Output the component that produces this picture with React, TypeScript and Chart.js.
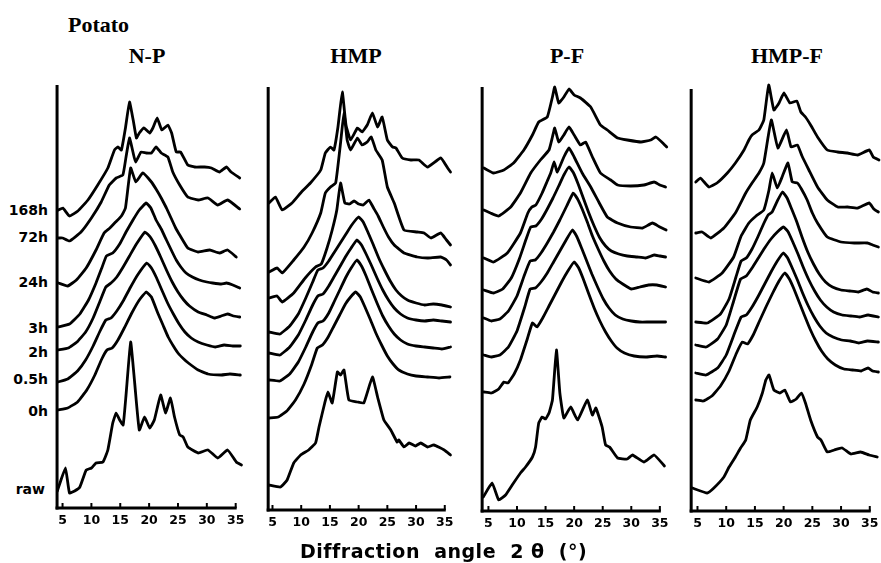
import React, { useEffect, useRef } from "react";
import { Chart, registerables } from "chart.js";
Chart.register(...registerables);

type Pt = [number, number];

const FIGURE_TITLE = "Potato";
const PANEL_TITLES = ["N-P", "HMP", "P-F", "HMP-F"];
const TIME_LABELS = ["168h", "72h", "24h", "3h", "2h", "0.5h", "0h", "raw"];
const X_TICKS = [5, 10, 15, 20, 25, 30, 35];
const X_AXIS_TITLE = "Diffraction  angle  2 θ  (°)";

// ---------- N-P ----------
const NP_168h: Pt[] = [[4.3,298],[5.05,300],[6.2,292],[7.65,297],[9.4,308],[11.1,323],[12.85,340],[14.0,358],[14.6,361],[15.2,358],[15.9,380],[16.6,406],[17.3,386],[17.8,370],[18.3,375],[19.1,380],[20.1,375],[20.65,380],[21.4,390],[22.2,378],[23.25,383],[23.9,375],[24.7,356],[25.45,356],[26.7,343],[27.9,341],[29.6,341],[30.8,340],[32.2,336],[33.4,341],[34.2,336],[35.7,330]];
const NP_72h: Pt[] = [[4.3,270],[5,270],[6.2,267],[8.2,276],[10,290],[11.7,306],[13.1,323],[14.3,330],[15.45,333],[16,351],[16.6,370],[17.2,356],[17.65,346],[18.6,356],[19.5,355],[20.4,355],[21.2,361],[22.1,355],[23.25,351],[24.1,336],[25.3,323],[26.7,311],[28.5,308],[30.2,310],[31.9,303],[33.6,308],[35.7,299]];
const NP_24h: Pt[] = [[4.3,225],[5.9,222],[7.4,228],[9.1,240],[10.8,258],[12.2,275],[13.2,280],[14.2,286],[15.2,292],[15.9,300],[16.8,340],[17.7,326],[18.9,335],[20.4,326],[21.3,318],[22.1,310],[23,300],[23.8,290],[24.6,280],[25.3,273],[26.7,260],[28.5,256],[30.5,258],[32.2,255],[33.6,258],[35.1,251]];
const NP_3h: Pt[] = [[4.2,181],[6.2,184],[8,194],[9.5,208],[10.8,225],[11.8,240],[12.6,252],[13.7,255],[14.9,264],[16,276],[17.2,288],[18.3,298],[19.5,305],[20.3,300],[21.2,288],[22.1,279],[23,268],[24,256],[24.7,248],[25.5,241],[26.4,235],[27.5,231],[28.7,228],[30,226],[31,225],[32.5,224],[33.4,225],[34.5,223],[35.7,220]];
const NP_2h: Pt[] = [[4.2,158],[6,160],[7.5,166],[9,176],[10.3,190],[11.5,207],[12.5,221],[13.4,225],[14.4,231],[15.5,241],[16.6,252],[17.8,264],[19.3,276],[20.2,271],[21.1,262],[22,251],[23,238],[24,226],[25,216],[26,208],[27,202],[28.5,196],[30,193],[31.3,190],[32.5,192],[33.6,194],[34.6,192],[35.7,191]];
const NP_05h: Pt[] = [[4.2,126],[5.9,129],[7.6,137],[9,148],[10.3,162],[11.5,177],[12.5,188],[13.4,190],[14.4,197],[15.5,207],[16.7,220],[18,233],[19.6,245],[20.4,240],[21.3,230],[22.2,218],[23.2,205],[24.2,194],[25.2,184],[26.2,176],[27.3,170],[28.5,166],[30,163],[31.5,161],[33,163],[34.5,162],[35.8,162]];
const NP_0h: Pt[] = [[4.2,98],[5.9,100],[7.6,106],[9.2,118],[10.6,133],[11.8,149],[12.7,158],[13.6,160],[14.6,168],[15.7,180],[17,195],[18.3,208],[19.5,216],[20.4,211],[21.5,195],[22.4,183],[23.3,171],[24.2,162],[25,155],[26,149],[26.8,145],[28.5,138],[30.2,134],[32.5,133],[34,134],[35.8,133]];
const NP_raw: Pt[] = [[4.1,17],[5.5,40],[6.2,15],[7.1,17],[8,21],[9.1,38],[10,40],[10.8,45],[12,46],[12.85,58],[13.7,85],[14.3,95],[14.9,88],[15.5,83],[16.0,113],[16.8,166],[17.5,125],[18.3,78],[19.2,91],[20.1,80],[20.9,88],[22.0,113],[22.85,95],[23.7,110],[24.4,91],[25.3,73],[25.9,71],[26.7,61],[28.5,55],[30.2,58],[31.9,50],[33.6,58],[35.1,46],[36,43]];

// ---------- HMP ----------
const HMP_168h: Pt[] = [[4.4,307],[5.5,313],[6.7,300],[8.4,307],[9.9,317],[11.6,327],[13.4,340],[14.2,357],[15.1,363],[15.7,360],[16.4,383],[17.15,418],[17.8,385],[18.6,370],[19.8,382],[20.6,378],[21.5,385],[22.4,397],[23.3,383],[24.1,393],[25,370],[25.9,363],[26.5,362],[27.6,352],[29.1,350],[30.5,350],[32,343],[34.3,352],[35.5,342],[36,338]];
const HMP_72h: Pt[] = [[4.4,238],[5.8,242],[6.7,237],[8.7,250],[10.5,263],[11.9,277],[13.4,297],[14.2,317],[15.1,323],[16,327],[16.85,367],[17.45,397],[18,370],[18.6,360],[19.8,372],[20.6,365],[21.5,368],[22.2,373],[23,360],[24.1,350],[25,323],[26.2,307],[27.9,280],[30.2,278],[31.4,277],[32.6,272],[34.3,277],[35.3,270],[36,265]];
const HMP_24h: Pt[] = [[4.4,212],[5.8,214],[6.7,208],[8.7,217],[10.7,232],[12.5,243],[13.5,246],[14.5,262],[15.4,280],[16.2,300],[16.85,327],[17.6,307],[18.4,306],[19.2,309],[20,306],[20.8,305],[21.8,310],[22.6,302],[23.4,294],[24.3,283],[25.2,273],[26.2,265],[27.9,257],[30.2,253],[32,252],[34.3,253],[35.3,250],[36,245]];
const HMP_3h: Pt[] = [[4.4,178],[6.3,176],[8,184],[9.5,196],[10.8,212],[12,228],[12.9,240],[13.8,242],[14.8,249],[15.8,258],[16.8,267],[17.8,276],[18.8,285],[20,293],[20.8,288],[21.6,278],[22.5,266],[23.5,252],[24.5,240],[25.5,229],[26.5,220],[27.5,214],[28.5,210],[30,207],[31.5,205],[33,206],[34.5,205],[36,203]];
const HMP_2h: Pt[] = [[4.4,157],[6.3,155],[8,163],[9.5,175],[10.8,190],[12,205],[12.9,214],[13.8,216],[14.8,224],[15.8,234],[16.8,244],[17.8,254],[18.7,262],[19.7,270],[20.5,265],[21.3,256],[22.2,245],[23.2,232],[24.2,220],[25.2,210],[26.2,202],[27.3,196],[28.5,192],[30,190],[31.5,189],[33,190],[34.5,189],[36,188]];
const HMP_05h: Pt[] = [[4.4,130],[6.3,129],[8,136],[9.5,148],[10.8,163],[12,178],[12.9,187],[13.8,189],[14.8,197],[15.8,209],[16.8,221],[17.8,233],[18.7,242],[19.7,250],[20.5,244],[21.3,234],[22.2,221],[23.2,207],[24.2,194],[25.2,184],[26.2,176],[27.3,170],[28.5,166],[30,164],[31.5,163],[33,162],[34.5,161],[36,163]];
const HMP_0h: Pt[] = [[4.4,92],[6,93],[7.5,99],[9,110],[10.5,126],[11.8,145],[12.8,162],[13.7,165],[14.7,173],[15.7,184],[16.7,195],[17.7,206],[18.6,213],[19.5,218],[20.3,213],[21.1,203],[22,191],[23,177],[24,165],[25,154],[26,146],[27,140],[28.5,136],[30,134],[32,133],[34,132],[35.9,133]];
const HMP_raw: Pt[] = [[4.35,25],[6.4,23],[7.55,30],[8.7,47],[9.9,55],[11.3,60],[12.5,67],[13.1,83],[14.1,107],[14.65,118],[15.4,107],[16.3,138],[16.85,135],[17.45,140],[18.3,110],[19.8,108],[20.9,107],[22.4,133],[23.3,113],[24.4,90],[25.6,80],[26.7,68],[27,70],[27.9,63],[28.8,67],[29.9,64],[30.8,67],[32,63],[33.1,65],[34.9,60],[36,55]];

// ---------- P-F ----------
const PF_168h: Pt[] = [[4.2,343],[5.9,338],[7.7,341],[9.4,348],[11.2,361],[12.7,376],[13.8,389],[15.3,394],[16.2,414],[16.6,424],[17.3,408],[18.2,414],[19.1,422],[20,416],[21.1,413],[22.9,404],[24.6,386],[25.8,381],[27.6,373],[29.3,371],[31.7,369],[33.4,371],[34.3,374],[35.5,368],[36.2,364]];
const PF_72h: Pt[] = [[4.2,301],[5.35,298],[6.8,295],[8.9,304],[10.6,318],[12.4,338],[14.1,351],[15.6,361],[16.2,374],[16.6,383],[17.3,369],[18.2,376],[19.1,384],[20,376],[21.1,366],[22,369],[23.2,354],[24.6,338],[26.4,331],[27.6,326],[29.9,325],[32.2,326],[34,329],[35,326],[36,324]];
const PF_24h: Pt[] = [[4.2,253],[5.9,249],[8.3,258],[10.6,278],[11.9,298],[12.6,304],[13.3,306],[14.4,318],[15.3,330],[15.9,338],[16.5,349],[17.05,339],[18.2,354],[19.1,363],[20,354],[21.4,338],[22.9,324],[24.4,308],[25.8,294],[27.6,288],[29.9,284],[32,283],[33.7,288],[35,284],[36.1,281]];
const PF_3h: Pt[] = [[4.2,221],[5.9,218],[7.5,222],[9,233],[10.4,252],[11.6,272],[12.4,284],[13.3,285],[14.3,292],[15.3,302],[16.3,313],[17.3,325],[18.2,336],[19.1,344],[19.9,338],[20.7,327],[21.6,313],[22.5,299],[23.5,285],[24.5,273],[25.5,265],[26.5,260],[27.8,257],[29.3,255],[31,254],[32.5,253],[34,256],[35,255],[36,254]];
const PF_2h: Pt[] = [[4.2,193],[5.5,190],[7,192],[8.5,200],[10,215],[11.3,236],[12.3,250],[13.2,251],[14.2,258],[15.3,268],[16.4,279],[17.5,291],[18.7,305],[19.85,318],[20.6,312],[21.4,302],[22.3,289],[23.2,275],[24.2,262],[25.2,250],[26.2,240],[27.3,232],[28.5,227],[30,222],[31.5,224],[33,226],[34.5,226],[36,224]];
const PF_05h: Pt[] = [[4.2,156],[5.5,154],[7,156],[8.5,164],[10,180],[11.3,203],[12.3,222],[13.2,223],[14.2,229],[15.3,238],[16.4,249],[17.5,260],[18.6,271],[19.7,281],[20.5,274],[21.3,263],[22.2,250],[23.1,237],[24.1,224],[25.1,212],[26.1,203],[27.2,196],[28.5,192],[30,190],[31.5,189],[33,189],[34.5,189],[36,189]];
const PF_0h: Pt[] = [[4.2,119],[5.5,118],[6.8,122],[7.7,129],[8.4,128],[9.5,137],[10.6,151],[11.8,172],[12.7,188],[13.5,184],[14.5,193],[15.6,205],[16.7,217],[17.8,229],[18.9,240],[20,249],[20.8,243],[21.6,232],[22.5,218],[23.5,203],[24.5,190],[25.5,179],[26.5,170],[27.5,163],[28.8,158],[30.5,155],[32.5,154],[34.5,155],[36,154]];
const PF_raw: Pt[] = [[4.1,14],[5.65,28],[6.8,11],[8,16],[9.4,28],[10.6,38],[11.5,44],[12.7,54],[13.25,64],[13.8,88],[14.4,94],[15,92],[15.6,98],[16.2,111],[16.9,161],[17.5,118],[18.2,93],[19.4,104],[20.6,91],[22.3,111],[23.2,96],[23.8,103],[24.9,84],[25.5,66],[26.2,64],[27.6,53],[29.3,52],[30.2,56],[32.2,49],[34,56],[35.8,45]];

// ---------- HMP-F ----------
const HMPF_168h: Pt[] = [[4.7,329],[5.5,333],[7,324],[8.4,328],[10.2,338],[11.6,348],[13.1,361],[13.95,371],[14.5,376],[15.7,381],[16.55,391],[17.4,426],[18.3,401],[19.2,408],[20.05,418],[21.1,408],[22.3,410],[23,399],[23.8,394],[24.7,386],[25.9,374],[27.6,361],[29.4,359],[31.1,358],[32.9,356],[34.9,361],[35.6,354],[36.6,351]];
const HMPF_72h: Pt[] = [[4.7,278],[5.8,279],[7.3,273],[9.6,283],[11.6,298],[13.4,318],[14.5,328],[15.7,338],[16.55,348],[17.85,391],[19,363],[20.5,381],[21.3,364],[22.4,366],[23.2,355],[24.4,341],[25.9,324],[27.6,311],[29.4,304],[31.1,304],[32.9,303],[34.9,308],[35.7,302],[36.5,299]];
const HMPF_24h: Pt[] = [[4.7,233],[7,229],[9.3,238],[11.3,254],[12.6,275],[13.95,288],[15.2,295],[16.55,301],[17.45,321],[18,338],[18.9,323],[19.8,335],[20.75,348],[21.5,329],[22.4,328],[23.1,322],[24.1,311],[25,298],[25.9,288],[27.6,274],[30,269],[32.3,268],[34.6,268],[35.5,266],[36.5,264]];
const HMPF_3h: Pt[] = [[4.7,189],[6.7,188],[9,197],[10.5,212],[11.7,234],[12.6,250],[13.5,253],[14.5,262],[15.5,274],[16.5,287],[17.3,296],[18,299],[18.9,310],[19.8,319],[20.6,313],[21.4,302],[22.3,289],[23.2,274],[24.2,259],[25.2,247],[26.2,237],[27.3,229],[28.5,224],[30,221],[31.5,220],[33,219],[34.5,222],[35.5,219],[36.5,218]];
const HMPF_2h: Pt[] = [[4.7,166],[6.5,164],[8.5,172],[10,186],[11.3,210],[12.5,232],[13.5,235],[14.5,243],[15.6,253],[16.7,263],[17.8,272],[18.9,279],[20,284],[20.8,279],[21.6,269],[22.5,257],[23.4,244],[24.4,231],[25.4,220],[26.4,211],[27.5,204],[28.7,199],[30.2,196],[31.7,195],[33.2,194],[34.7,196],[36.5,194]];
const HMPF_05h: Pt[] = [[4.7,138],[6.5,136],[8.5,143],[10,156],[11.4,177],[12.6,194],[13.5,196],[14.5,204],[15.6,215],[16.7,227],[17.8,239],[18.9,250],[19.95,258],[20.7,253],[21.5,243],[22.4,231],[23.3,218],[24.3,205],[25.3,194],[26.3,185],[27.4,178],[28.6,174],[30.1,171],[31.6,170],[33.1,168],[34.6,170],[36.5,169]];
const HMPF_0h: Pt[] = [[4.7,111],[6,110],[7.5,115],[9,125],[10.5,140],[11.8,158],[12.8,169],[13.7,167],[14.7,176],[15.8,190],[17,205],[18.1,218],[19.2,230],[20.2,238],[21,232],[21.8,222],[22.7,209],[23.6,196],[24.6,182],[25.6,170],[26.6,160],[27.7,152],[29,146],[30.5,142],[32,141],[33.5,140],[34.7,143],[35.5,140],[36.5,139]];
const HMPF_raw: Pt[] = [[4.1,23],[6.7,18],[7.85,23],[9.6,34],[10.5,44],[11.6,54],[12.5,63],[13.4,71],[14.2,91],[15.4,104],[16.3,118],[16.9,131],[17.45,136],[18.3,121],[19.35,118],[20.2,121],[21.2,109],[22.2,112],[23.1,118],[23.8,108],[24.7,91],[25.9,74],[26.5,71],[27.6,59],[28.8,61],[30.2,63],[31.7,57],[33.4,59],[34.9,56],[36.3,54]];

const PANEL_SERIES: Pt[][][] = [
  [NP_168h, NP_72h, NP_24h, NP_3h, NP_2h, NP_05h, NP_0h, NP_raw],
  [HMP_168h, HMP_72h, HMP_24h, HMP_3h, HMP_2h, HMP_05h, HMP_0h, HMP_raw],
  [PF_168h, PF_72h, PF_24h, PF_3h, PF_2h, PF_05h, PF_0h, PF_raw],
  [HMPF_168h, HMPF_72h, HMPF_24h, HMPF_3h, HMPF_2h, HMPF_05h, HMPF_0h, HMPF_raw],
];

// layout (pixels)
const TOP = 70;
const AXIS_H = 30;
const LAYOUT = [
  { left: 51, width: 202, bottom: 508, axisTop: 85, axisX: 4.05, title: 147 },
  { left: 261, width: 201, bottom: 510, axisTop: 87, axisX: 4.25, title: 356 },
  { left: 477, width: 200, bottom: 511, axisTop: 87, axisX: 3.9, title: 567 },
  { left: 686, width: 201, bottom: 511, axisTop: 89, axisX: 3.9, title: 787 },
];
const LABEL_Y = [210, 237, 282, 328, 352, 379, 411, 490];

function Panel({ idx }: { idx: number }) {
  const ref = useRef<HTMLCanvasElement>(null);
  const L = LAYOUT[idx];
  const plotH = L.bottom - TOP;
  const H = plotH + AXIS_H;
  useEffect(() => {
    if (!ref.current) return;
    const axisPlugin = {
      id: "xrdAxes" + idx,
      afterDatasetsDraw(chart: any) {
        const { ctx, scales } = chart;
        const x = scales.x, y = scales.y;
        const x0 = x.getPixelForValue(L.axisX);
        const yb = y.getPixelForValue(0);
        const yt = y.getPixelForValue(L.bottom - L.axisTop);
        const xEnd = x.getPixelForValue(35);
        ctx.save();
        ctx.strokeStyle = "#000";
        ctx.lineWidth = 3;
        ctx.beginPath();
        ctx.moveTo(x0, yt);
        ctx.lineTo(x0, yb + 1.5);
        ctx.stroke();
        ctx.beginPath();
        ctx.moveTo(x0 - 1.5, yb);
        ctx.lineTo(xEnd + 1, yb);
        ctx.stroke();
        ctx.lineWidth = 2;
        X_TICKS.forEach((t) => {
          const px = x.getPixelForValue(t);
          ctx.beginPath();
          ctx.moveTo(px, yb);
          ctx.lineTo(px, yb - 5);
          ctx.stroke();
        });
        ctx.restore();
      },
    };
    const chart = new Chart(ref.current, {
      type: "line",
      data: {
        datasets: PANEL_SERIES[idx].map((s, i) => ({
          label: TIME_LABELS[i],
          data: s.map(([x, y]) => ({ x, y })),
          borderColor: "#000",
          borderWidth: 2.8,
          borderJoinStyle: "round" as const,
          borderCapStyle: "round" as const,
          pointRadius: 0,
          fill: false,
          tension: 0.12,
        })),
      },
      options: {
        animation: false,
        responsive: false,
        events: [],
        layout: { padding: 0 },
        plugins: { legend: { display: false }, tooltip: { enabled: false } },
        scales: {
          x: {
            type: "linear",
            min: 3,
            max: 38,
            afterBuildTicks: (s: any) => {
              s.ticks = X_TICKS.map((v) => ({ value: v }));
            },
            afterFit: (s: any) => {
              s.height = AXIS_H;
            },
            grid: { display: false, drawTicks: false },
            border: { display: false },
            ticks: {
              color: "#000",
              font: { family: "DejaVu Sans", weight: "bold", size: 12.5 },
              padding: 5,
              maxRotation: 0,
              autoSkip: false,
              callback: (v: any) => String(v),
            },
          },
          y: { display: false, min: 0, max: plotH },
        },
      },
      plugins: [axisPlugin],
    } as any);
    return () => chart.destroy();
  }, [idx]);
  return (
    <canvas
      ref={ref}
      width={L.width}
      height={H}
      style={{ position: "absolute", left: L.left, top: TOP, width: L.width, height: H }}
    />
  );
}

export default function App() {
  return (
    <div
      style={{
        position: "absolute",
        left: 0,
        top: 0,
        width: 881,
        height: 563,
        background: "#fff",
        overflow: "hidden",
        color: "#000",
      }}
    >
      <div
        style={{
          position: "absolute",
          left: 68,
          top: 14,
          font: "bold 22px 'Liberation Serif'",
          lineHeight: "22px",
          whiteSpace: "nowrap",
        }}
      >
        {FIGURE_TITLE}
      </div>
      {PANEL_TITLES.map((t, i) => (
        <div
          key={t}
          style={{
            position: "absolute",
            left: LAYOUT[i].title - 60,
            width: 120,
            top: 45,
            textAlign: "center",
            font: "bold 22px 'Liberation Serif'",
            lineHeight: "22px",
            whiteSpace: "nowrap",
          }}
        >
          {t}
        </div>
      ))}
      {TIME_LABELS.map((t, i) => (
        <div
          key={t}
          style={{
            position: "absolute",
            left: 0,
            width: i === 7 ? 45 : 48,
            top: LABEL_Y[i] - (i === 7 ? 8 : 7),
            textAlign: "right",
            font: "bold 14px 'DejaVu Sans'",
            lineHeight: "14px",
            whiteSpace: "nowrap",
          }}
        >
          {t}
        </div>
      ))}
      {LAYOUT.map((_, i) => (
        <Panel key={i} idx={i} />
      ))}
      <div
        style={{
          position: "absolute",
          left: 300,
          top: 542,
          font: "bold 19px 'DejaVu Sans'",
          lineHeight: "19px",
          letterSpacing: "0.5px",
          whiteSpace: "pre",
        }}
      >
        {X_AXIS_TITLE}
      </div>
    </div>
  );
}
